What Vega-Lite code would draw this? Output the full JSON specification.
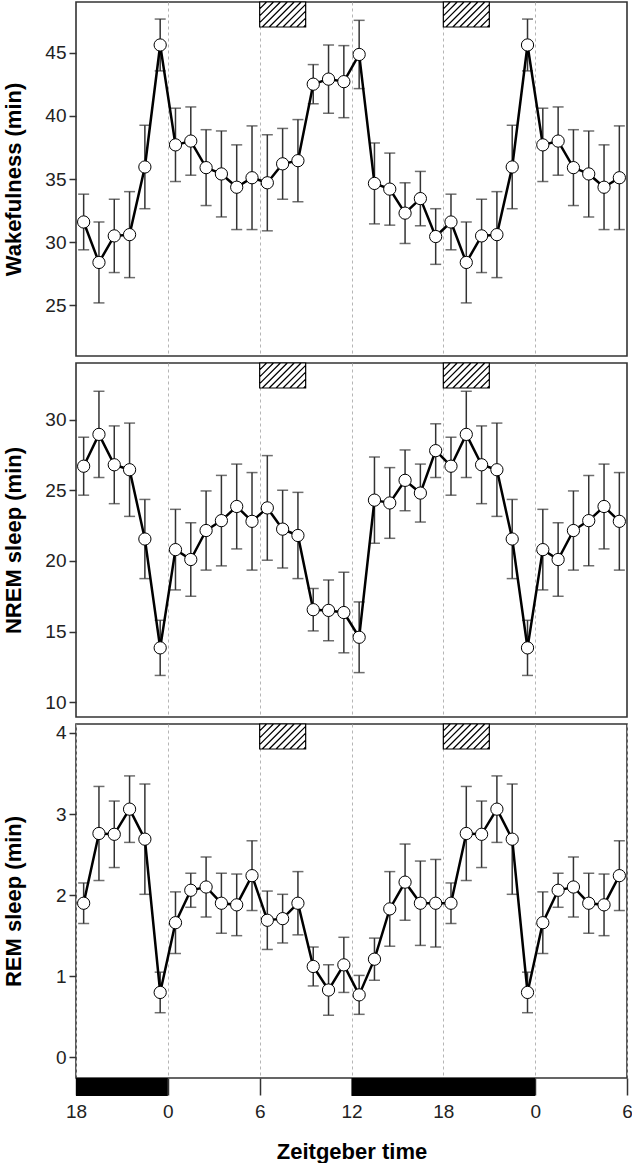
{
  "$schema": "https://vega.github.io/schema/vega-lite/v6.json",
  "background": "white",
  "padding": {"left": 1, "top": -2, "right": 0, "bottom": 0},
  "spacing": 7,
  "bounds": "flush",
  "datasets": {
    "pts": [
      {"t": -5.5, "w": 31.6, "we": 2.2, "n": 26.7, "ne": 2.05, "r": 1.9, "re": 0.25},
      {"t": -4.5, "w": 28.4, "we": 3.2, "n": 28.95, "ne": 3.05, "r": 2.76, "re": 0.58},
      {"t": -3.5, "w": 30.5, "we": 2.9, "n": 26.8, "ne": 2.75, "r": 2.75, "re": 0.41},
      {"t": -2.5, "w": 30.6, "we": 3.4, "n": 26.45, "ne": 3.3, "r": 3.06, "re": 0.41},
      {"t": -1.5, "w": 35.95, "we": 3.3, "n": 21.55, "ne": 2.8, "r": 2.69, "re": 0.68},
      {"t": -0.5, "w": 45.6, "we": 2.05, "n": 13.85, "ne": 1.95, "r": 0.8, "re": 0.25},
      {"t": 0.5, "w": 37.7, "we": 2.9, "n": 20.8, "ne": 2.85, "r": 1.66, "re": 0.38},
      {"t": 1.5, "w": 38.0, "we": 2.7, "n": 20.1, "ne": 2.6, "r": 2.06, "re": 0.21},
      {"t": 2.5, "w": 35.9, "we": 3.0, "n": 22.15, "ne": 2.8, "r": 2.1, "re": 0.37},
      {"t": 3.5, "w": 35.4, "we": 3.4, "n": 22.85, "ne": 3.2, "r": 1.9, "re": 0.37},
      {"t": 4.5, "w": 34.35, "we": 3.35, "n": 23.85, "ne": 3.0, "r": 1.88, "re": 0.38},
      {"t": 5.5, "w": 35.1, "we": 4.1, "n": 22.8, "ne": 3.45, "r": 2.24, "re": 0.43},
      {"t": 6.5, "w": 34.7, "we": 3.8, "n": 23.75, "ne": 3.7, "r": 1.69, "re": 0.36},
      {"t": 7.5, "w": 36.2, "we": 2.8, "n": 22.25, "ne": 2.75, "r": 1.71, "re": 0.3},
      {"t": 8.5, "w": 36.45, "we": 3.25, "n": 21.8, "ne": 3.05, "r": 1.9, "re": 0.39},
      {"t": 9.5, "w": 42.5, "we": 1.55, "n": 16.55, "ne": 1.5, "r": 1.12, "re": 0.24},
      {"t": 10.5, "w": 42.9, "we": 2.7, "n": 16.5, "ne": 2.15, "r": 0.83, "re": 0.31},
      {"t": 11.5, "w": 42.7, "we": 2.85, "n": 16.35, "ne": 2.85, "r": 1.14, "re": 0.34},
      {"t": 12.5, "w": 44.85, "we": 2.7, "n": 14.6, "ne": 2.5, "r": 0.77, "re": 0.24},
      {"t": 13.5, "w": 34.65, "we": 3.2, "n": 24.3, "ne": 3.05, "r": 1.21, "re": 0.26},
      {"t": 14.5, "w": 34.2, "we": 2.85, "n": 24.1, "ne": 2.5, "r": 1.83, "re": 0.46},
      {"t": 15.5, "w": 32.3, "we": 2.4, "n": 25.7, "ne": 2.15, "r": 2.16, "re": 0.47},
      {"t": 16.5, "w": 33.45, "we": 2.15, "n": 24.8, "ne": 2.05, "r": 1.9, "re": 0.52},
      {"t": 17.5, "w": 30.45, "we": 2.2, "n": 27.8, "ne": 1.9, "r": 1.9, "re": 0.54},
      {"t": 18.5, "w": 31.6, "we": 2.2, "n": 26.7, "ne": 2.05, "r": 1.9, "re": 0.25},
      {"t": 19.5, "w": 28.4, "we": 3.2, "n": 28.95, "ne": 3.05, "r": 2.76, "re": 0.58},
      {"t": 20.5, "w": 30.5, "we": 2.9, "n": 26.8, "ne": 2.75, "r": 2.75, "re": 0.41},
      {"t": 21.5, "w": 30.6, "we": 3.4, "n": 26.45, "ne": 3.3, "r": 3.06, "re": 0.41},
      {"t": 22.5, "w": 35.95, "we": 3.3, "n": 21.55, "ne": 2.8, "r": 2.69, "re": 0.68},
      {"t": 23.5, "w": 45.6, "we": 2.05, "n": 13.85, "ne": 1.95, "r": 0.8, "re": 0.25},
      {"t": 24.5, "w": 37.7, "we": 2.9, "n": 20.8, "ne": 2.85, "r": 1.66, "re": 0.38},
      {"t": 25.5, "w": 38.0, "we": 2.7, "n": 20.1, "ne": 2.6, "r": 2.06, "re": 0.21},
      {"t": 26.5, "w": 35.9, "we": 3.0, "n": 22.15, "ne": 2.8, "r": 2.1, "re": 0.37},
      {"t": 27.5, "w": 35.4, "we": 3.4, "n": 22.85, "ne": 3.2, "r": 1.9, "re": 0.37},
      {"t": 28.5, "w": 34.35, "we": 3.35, "n": 23.85, "ne": 3.0, "r": 1.88, "re": 0.38},
      {"t": 29.5, "w": 35.1, "we": 4.1, "n": 22.8, "ne": 3.45, "r": 2.24, "re": 0.43}
    ],
    "treat": [{"start": 6, "end": 9}, {"start": 18, "end": 21}],
    "dark": [{"start": -6, "end": 0}, {"start": 12, "end": 24}]
  },
  "config": {
    "view": {"stroke": "#333", "strokeWidth": 1.6},
    "axisY": {
      "grid": false, "domain": false, "tickSize": 7, "tickColor": "#333", "tickWidth": 1.5,
      "labelFont": "Liberation Sans", "labelFontSize": 19, "labelColor": "#222", "labelPadding": 3,
      "titleFont": "Liberation Sans", "titleFontSize": 22, "titleFontWeight": "bold",
      "titleColor": "#000", "titlePadding": 11, "minExtent": 40, "maxExtent": 40
    },
    "axisX": {
      "grid": true, "gridDash": [3, 3], "gridColor": "#b5b5b5", "gridWidth": 1, "domain": false
    }
  },
  "vconcat": [
    {
      "width": 551, "height": 354,
      "layer": [
        {"data": {"name": "pts"},
         "mark": {"type": "errorbar", "color": "#333", "thickness": 1.5, "ticks": {"size": 11, "thickness": 1.5}},
         "encoding": {
           "x": {"field": "t", "type": "quantitative", "scale": {"domain": [-6, 30], "nice": false, "zero": false},
                 "axis": {"values": [0, 6, 12, 18, 24], "labels": false, "ticks": false, "title": null}},
           "y": {"field": "w", "type": "quantitative", "scale": {"domain": [21, 49.0], "nice": false, "zero": false},
                 "axis": {"values": [25, 30, 35, 40, 45], "format": "d", "title": "Wakefulness (min)"}},
           "yError": {"field": "we"}
         }},
        {"data": {"name": "pts"},
         "mark": {"type": "line", "color": "black", "strokeWidth": 2.5},
         "encoding": {"x": {"field": "t", "type": "quantitative"}, "y": {"field": "w", "type": "quantitative"}}},
        {"data": {"name": "pts"},
         "mark": {"type": "point", "fill": "white", "stroke": "black", "strokeWidth": 1, "size": 150, "opacity": 1},
         "encoding": {"x": {"field": "t", "type": "quantitative"}, "y": {"field": "w", "type": "quantitative"}}},
        {"data": {"name": "treat"},
         "mark": {"type": "point", "shape": "M0,0L2,0L2,1.087L0,1.087Z M0,0.3L0.3,0 M0,0.6L0.6,0 M0,0.9L0.9,0 M0.113,1.087L1.2,0 M0.413,1.087L1.5,0 M0.713,1.087L1.8,0 M1.013,1.087L2,0.1 M1.313,1.087L2,0.4 M1.613,1.087L2,0.7 M1.913,1.087L2,1", "size": 2116, "fill": "white", "stroke": "black", "strokeWidth": 1.2, "opacity": 1},
         "encoding": {"x": {"field": "start", "type": "quantitative"}, "y": {"datum": 49.0}}}
      ]
    },
    {
      "width": 551, "height": 354,
      "layer": [
        {"data": {"name": "pts"},
         "mark": {"type": "errorbar", "color": "#333", "thickness": 1.5, "ticks": {"size": 11, "thickness": 1.5}},
         "encoding": {
           "x": {"field": "t", "type": "quantitative", "scale": {"domain": [-6, 30], "nice": false, "zero": false},
                 "axis": {"values": [0, 6, 12, 18, 24], "labels": false, "ticks": false, "title": null}},
           "y": {"field": "n", "type": "quantitative", "scale": {"domain": [8.96, 34.0], "nice": false, "zero": false},
                 "axis": {"values": [10, 15, 20, 25, 30], "format": "d", "title": "NREM sleep (min)"}},
           "yError": {"field": "ne"}
         }},
        {"data": {"name": "pts"},
         "mark": {"type": "line", "color": "black", "strokeWidth": 2.5},
         "encoding": {"x": {"field": "t", "type": "quantitative"}, "y": {"field": "n", "type": "quantitative"}}},
        {"data": {"name": "pts"},
         "mark": {"type": "point", "fill": "white", "stroke": "black", "strokeWidth": 1, "size": 150, "opacity": 1},
         "encoding": {"x": {"field": "t", "type": "quantitative"}, "y": {"field": "n", "type": "quantitative"}}},
        {"data": {"name": "treat"},
         "mark": {"type": "point", "shape": "M0,0L2,0L2,1.087L0,1.087Z M0,0.3L0.3,0 M0,0.6L0.6,0 M0,0.9L0.9,0 M0.113,1.087L1.2,0 M0.413,1.087L1.5,0 M0.713,1.087L1.8,0 M1.013,1.087L2,0.1 M1.313,1.087L2,0.4 M1.613,1.087L2,0.7 M1.913,1.087L2,1", "size": 2116, "fill": "white", "stroke": "black", "strokeWidth": 1.2, "opacity": 1},
         "encoding": {"x": {"field": "start", "type": "quantitative"}, "y": {"datum": 34.0}}}
      ]
    },
    {
      "width": 551, "height": 354,
      "layer": [
        {"data": {"name": "pts"},
         "mark": {"type": "errorbar", "color": "#333", "thickness": 1.5, "ticks": {"size": 11, "thickness": 1.5}},
         "encoding": {
           "x": {"field": "t", "type": "quantitative", "scale": {"domain": [-6, 30], "nice": false, "zero": false},
                 "axis": {"values": [-6, 0, 6, 12, 18, 24, 30], "labelExpr": "'' + ((datum.value + 24) % 24)", "labelFlush": false,
                          "tickSize": 17, "tickColor": "#333", "tickWidth": 1.5,
                          "labelFont": "Liberation Sans", "labelFontSize": 19, "labelColor": "#222", "labelPadding": 7,
                          "title": "Zeitgeber time", "titleFont": "Liberation Sans", "titleFontSize": 22,
                          "titleFontWeight": "bold", "titleColor": "#000", "titlePadding": 20}},
           "y": {"field": "r", "type": "quantitative", "scale": {"domain": [-0.255, 4.11], "nice": false, "zero": false},
                 "axis": {"values": [0, 1, 2, 3, 4], "format": "d", "title": "REM sleep (min)"}},
           "yError": {"field": "re"}
         }},
        {"data": {"name": "pts"},
         "mark": {"type": "line", "color": "black", "strokeWidth": 2.5},
         "encoding": {"x": {"field": "t", "type": "quantitative"}, "y": {"field": "r", "type": "quantitative"}}},
        {"data": {"name": "pts"},
         "mark": {"type": "point", "fill": "white", "stroke": "black", "strokeWidth": 1, "size": 150, "opacity": 1},
         "encoding": {"x": {"field": "t", "type": "quantitative"}, "y": {"field": "r", "type": "quantitative"}}},
        {"data": {"name": "treat"},
         "mark": {"type": "point", "shape": "M0,0L2,0L2,1.087L0,1.087Z M0,0.3L0.3,0 M0,0.6L0.6,0 M0,0.9L0.9,0 M0.113,1.087L1.2,0 M0.413,1.087L1.5,0 M0.713,1.087L1.8,0 M1.013,1.087L2,0.1 M1.313,1.087L2,0.4 M1.613,1.087L2,0.7 M1.913,1.087L2,1", "size": 2116, "fill": "white", "stroke": "black", "strokeWidth": 1.2, "opacity": 1},
         "encoding": {"x": {"field": "start", "type": "quantitative"}, "y": {"datum": 4.11}}},
        {"data": {"name": "dark"},
         "mark": {"type": "rect", "color": "black"},
         "encoding": {"x": {"field": "start", "type": "quantitative"}, "x2": {"field": "end"},
                      "y": {"datum": -0.255}, "y2": {"datum": -0.477}}}
      ]
    }
  ]
}
